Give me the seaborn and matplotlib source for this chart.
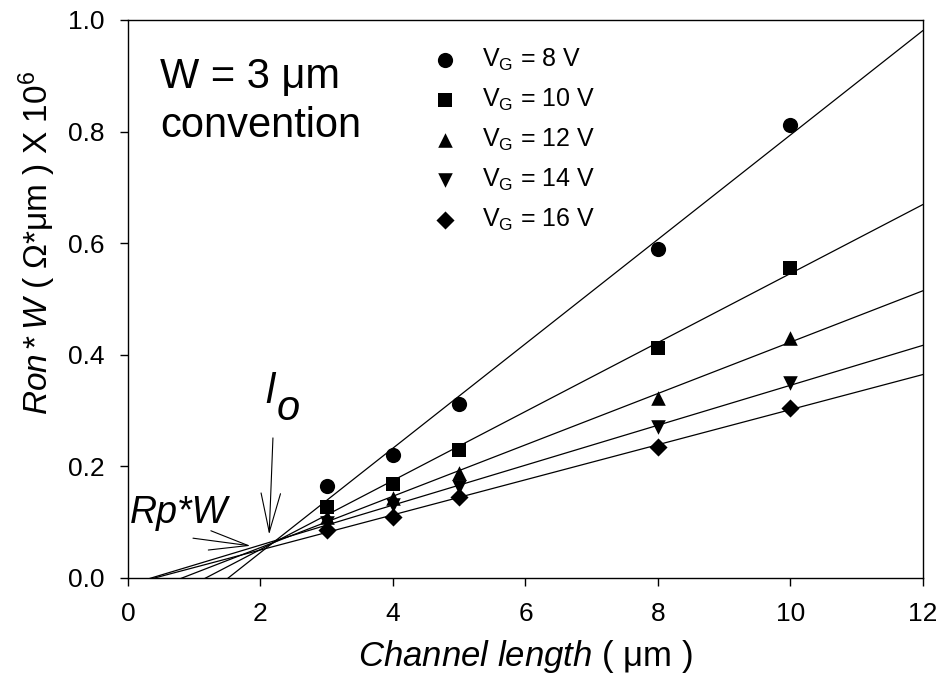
import numpy as np
import pandas as pd
import matplotlib.pyplot as plt
import seaborn as sns

# channel lengths (um) and Ron*W values (x 1e6 ohm*um)
lengths = [3, 4, 5, 8, 10]
vg_labels = ['8', '10', '12', '14', '16']
ron_8 = [0.165, 0.220, 0.312, 0.590, 0.812]
ron_10 = [0.127, 0.168, 0.229, 0.412, 0.556]
ron_12 = [0.109, 0.143, 0.188, 0.323, 0.430]
ron_14 = [0.098, 0.131, 0.163, 0.270, 0.349]
ron_16 = [0.086, 0.109, 0.145, 0.235, 0.305]
markers = ['o', 's', '^', 'v', 'D']
sizes = [120, 95, 110, 110, 85]

df = pd.DataFrame({'L': lengths * 5,
                   'ron': ron_8 + ron_10 + ron_12 + ron_14 + ron_16,
                   'vg': np.repeat(vg_labels, len(lengths))})

sns.set_style('ticks')
plt.rcParams['font.family'] = ['Liberation Sans', 'DejaVu Sans']
plt.rcParams['mathtext.fontset'] = 'custom'
plt.rcParams['mathtext.rm'] = 'Liberation Sans'
plt.rcParams['mathtext.it'] = 'Liberation Sans:italic'
for k in ['text.color', 'axes.labelcolor', 'xtick.color', 'ytick.color', 'axes.edgecolor']:
    plt.rcParams[k] = 'black'
plt.rcParams['axes.linewidth'] = 1.0

fig = plt.figure(figsize=(9.45, 6.82), dpi=100)
ax = fig.add_axes([0.1354, 0.1525, 0.8413, 0.8182])
ax.set_xlim(0, 12)
ax.set_ylim(0, 1.0)

for vg, m, s in zip(vg_labels, markers, sizes):
    sub = df[df['vg'] == vg]
    sns.regplot(ax=ax, data=sub, x='L', y='ron', ci=None, truncate=False,
                marker=m, label='V$_\\mathrm{G}$ = ' + vg + ' V',
                scatter_kws={'color': 'black', 's': s, 'linewidths': 0,
                             'alpha': 1, 'zorder': 3},
                line_kws={'color': 'black', 'linewidth': 0.9})

ax.set_xlim(0, 12)
ax.set_ylim(0, 1.0)
ax.set_xticks(np.arange(0, 13, 2))
ax.set_yticks(np.arange(0, 1.01, 0.2))
ax.set_yticklabels(['0.0', '0.2', '0.4', '0.6', '0.8', '1.0'])
ax.tick_params(direction='out', length=6, width=1, labelsize=19, pad=11)
for sp in ax.spines.values():
    sp.set_visible(True)

ax.set_xlabel(r'$\mathit{Channel\ length}$ ( μm )', fontsize=25, labelpad=9)
ax.set_ylabel(r'$\mathit{Ron*W}$ ( Ω*μm ) X 10$^\mathrm{6}$', fontsize=24)
ax.yaxis.set_label_coords(-0.088, 0.6)

ax.legend(loc='upper left', bbox_to_anchor=(0.383, 0.952), frameon=False,
          fontsize=18, labelspacing=0.55, handlelength=1.0, handletextpad=1.0,
          borderpad=0, borderaxespad=0)

ax.text(0.48, 0.878, 'W = 3 μm', fontsize=30, va='baseline', ha='left')
ax.text(0.48, 0.790, 'convention', fontsize=30, va='baseline', ha='left')

# open-headed arrows pointing at the common crossing point
ax.annotate('', xy=(1.89, 0.057), xytext=(0.94, 0.072),
            arrowprops=dict(arrowstyle='->,head_length=2.8,head_width=0.7',
                            mutation_scale=10, color='black', lw=0.8))
ax.text(0.03, 0.099, 'Rp*W', fontsize=27, style='italic', va='baseline')
ax.annotate('', xy=(2.13, 0.073), xytext=(2.19, 0.256),
            arrowprops=dict(arrowstyle='->,head_length=2.8,head_width=0.7',
                            mutation_scale=10, color='black', lw=0.8))
ax.text(2.08, 0.314, 'l', fontsize=30, style='italic', va='baseline')
ax.text(2.24, 0.283, 'o', fontsize=30, style='italic', va='baseline')

fig.savefig('out.png', dpi=100)
